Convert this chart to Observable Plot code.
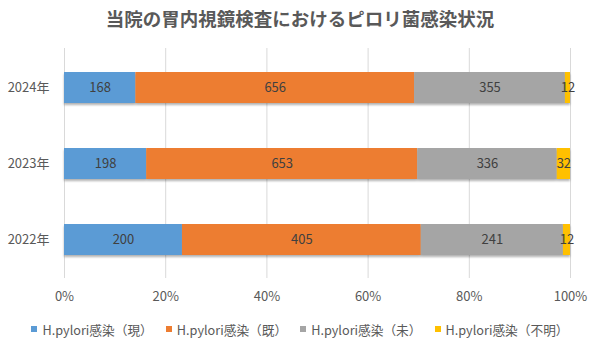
<!DOCTYPE html>
<html>
<head>
<meta charset="utf-8">
<script src="https://cdn.jsdelivr.net/npm/d3@7"></script>
<script src="https://cdn.jsdelivr.net/npm/@observablehq/plot@0.6"></script>
<style>
  body { margin: 0; background: #fff; font-family: "Noto Sans CJK JP", "Noto Sans", sans-serif; }
  #title { height: 40px; line-height: 36px; text-align: center; font-size: 18.5px; font-weight: bold; color: #595959; }
  #legend { height: 28px; display: flex; justify-content: center; align-items: center; font-size: 12.7px; color: #595959; gap: 13px; }
  .item { display: flex; align-items: center; gap: 5px; }
  .sw { width: 6px; height: 6px; display: inline-block; }
  svg { display: block; }
</style>
</head>
<body>
<div id="title">当院の胃内視鏡検査におけるピロリ菌感染状況</div>
<div id="chart"></div>
<div id="legend"></div>
<script>
const years = ["2024年", "2023年", "2022年"];
const series = ["H.pylori感染（現）", "H.pylori感染（既）", "H.pylori感染（未）", "H.pylori感染（不明）"];
const current = [168, 198, 200];
const past = [656, 653, 405];
const never = [355, 336, 241];
const unknown = [12, 32, 12];
const xTicks = [0, 0.2, 0.4, 0.6, 0.8, 1];
const colors = ["#5B9BD5", "#ED7D31", "#A5A5A5", "#FFC000"];

const valuesBySeries = [current, past, never, unknown];
const table = [];
years.forEach((y, i) => {
  series.forEach((s, j) => {
    table.push({ year: y, series: s, value: valuesBySeries[j][i] });
  });
});

const chart = Plot.plot({
  width: 600,
  height: 275,
  marginLeft: 64,
  marginRight: 30,
  marginTop: 8,
  marginBottom: 37,
  style: { fontFamily: '"Noto Sans CJK JP", "Noto Sans", sans-serif', fontSize: "13px", color: "#595959", background: "#fff" },
  x: { domain: [0, 1] },
  y: { domain: years, paddingInner: 0.595, paddingOuter: 0.2975 },
  color: { domain: series, range: colors },
  marks: [
    Plot.gridX(xTicks, { stroke: "#d9d9d9", strokeOpacity: 1 }),
    Plot.barX(table, Plot.stackX({
      x: "value", y: "year", fill: "series", offset: "normalize",
      imageFilter: "drop-shadow(0px 2px 1px rgba(0,0,0,0.3))"
    })),
    Plot.text(table, Plot.stackX({
      x: "value", y: "year", z: "series", offset: "normalize",
      text: d => String(d.value), fill: "#404040", fontSize: 13
    })),
    Plot.axisX(xTicks, { tickSize: 0, tickPadding: 13, fontSize: 13, label: null, tickFormat: d => Math.round(d * 100) + "%" }),
    Plot.axisY({ tickSize: 0, tickPadding: 15, fontSize: 13, label: null })
  ]
});
document.getElementById("chart").appendChild(chart);

const legend = document.getElementById("legend");
series.forEach((s, i) => {
  const item = document.createElement("span");
  item.className = "item";
  const sw = document.createElement("span");
  sw.className = "sw";
  sw.style.background = colors[i];
  const t = document.createElement("span");
  t.textContent = s;
  item.appendChild(sw);
  item.appendChild(t);
  legend.appendChild(item);
});
</script>
</body>
</html>
